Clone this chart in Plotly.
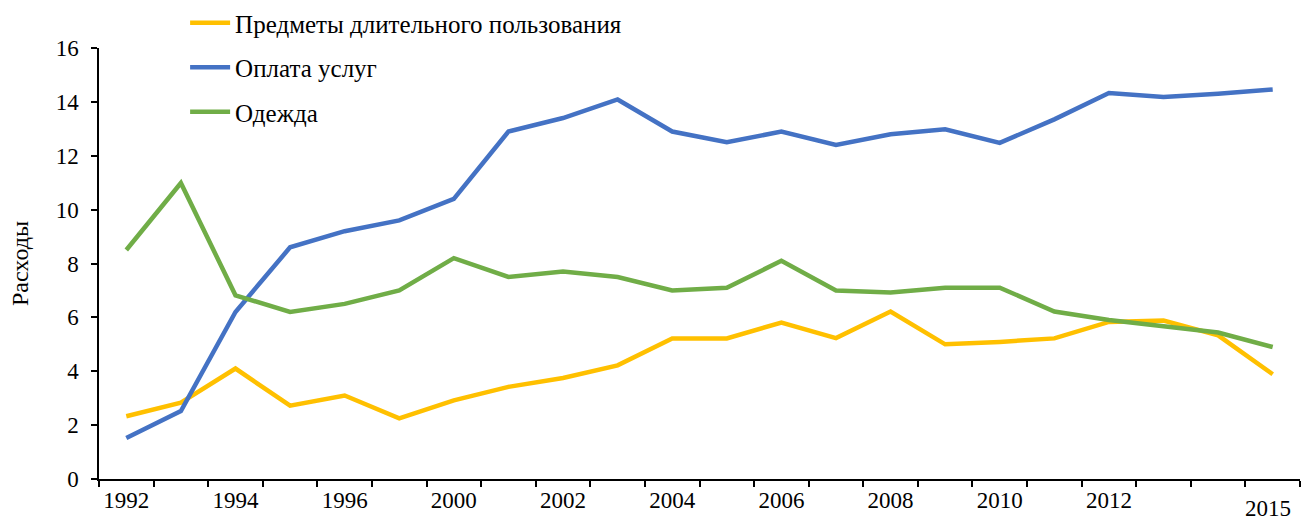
import plotly.graph_objects as go

years = ["1992", "1993", "1994", "1995", "1996", "1997", "2000", "2001", "2002", "2003", "2004",
         "2005", "2006", "2007", "2008", "2009", "2010", "2011", "2012", "2013", "2014", "2015"]
tick_labels = ["1992", "", "1994", "", "1996", "", "2000", "", "2002", "", "2004",
               "", "2006", "", "2008", "", "2010", "", "2012", "", "", ""]
last_label = "2015"
durables = [2.33, 2.83, 4.1, 2.72, 3.1, 2.25, 2.92, 3.42, 3.75, 4.22, 5.22,
            5.22, 5.81, 5.23, 6.22, 5.0, 5.09, 5.22, 5.83, 5.88, 5.33, 3.89]
services = [1.52, 2.52, 6.2, 8.6, 9.2, 9.6, 10.4, 12.9, 13.4, 14.09, 12.9,
            12.5, 12.9, 12.4, 12.8, 12.98, 12.48, 13.35, 14.33, 14.18, 14.3, 14.46]
clothes = [8.5, 10.99, 6.82, 6.2, 6.5, 7.0, 8.2, 7.5, 7.7, 7.5, 7.0,
           7.1, 8.1, 7.0, 6.92, 7.1, 7.1, 6.22, 5.9, 5.68, 5.44, 4.9]

series = [
    ("Предметы длительного пользования", durables, "#FFC000"),
    ("Оплата услуг", services, "#4472C4"),
    ("Одежда", clothes, "#70AD47"),
]

FONT = "Liberation Serif"

fig = go.Figure()
for i, (name, vals, color) in enumerate(series):
    fig.add_trace(go.Scatter(
        x=years, y=vals, name=name, mode="lines",
        line=dict(color=color, width=4.5),
        legendgroup=f"g{i}",
    ))

fig.update_layout(
    width=1301, height=524,
    margin=dict(l=99, r=1, t=47, b=45),
    paper_bgcolor="white", plot_bgcolor="white",
    font=dict(family=FONT, size=23, color="black"),
    showlegend=True,
    legend=dict(
        x=0.0717, xanchor="left", y=1.11, yanchor="top",
        bgcolor="rgba(0,0,0,0)", font=dict(family=FONT, size=25, color="black"),
        tracegroupgap=9, itemwidth=40,
    ),
    xaxis=dict(
        type="category", range=[-0.5, len(years) - 0.5],
        tickvals=years, ticktext=tick_labels, tickson="boundaries",
        tickangle=0, automargin=False,
        ticks="outside", ticklen=6, tickcolor="black", tickwidth=1.5,
        showline=True, linecolor="black", linewidth=1.5,
        showgrid=False, zeroline=False,
        tickfont=dict(family=FONT, size=23),
    ),
    yaxis=dict(
        range=[0, 16], dtick=2, tick0=0, automargin=False,
        ticks="outside", ticklen=6, tickcolor="black", tickwidth=1.5,
        showline=True, linecolor="black", linewidth=1.5,
        showgrid=False, zeroline=False,
        tickfont=dict(family=FONT, size=23),
        ticklabelstandoff=8,
        title=dict(text="Расходы", font=dict(family=FONT, size=24), standoff=20),
    ),
)

fig.add_annotation(
    x=years.index(last_label), y=-0.1, xref="x", yref="paper", text=last_label,
    showarrow=False, yanchor="bottom", xanchor="center", xshift=-5, borderpad=0,
    font=dict(family=FONT, size=23, color="black"),
)

fig.write_html("out.html", config={"displayModeBar": False},
               post_script="document.body.style.margin='0';")
